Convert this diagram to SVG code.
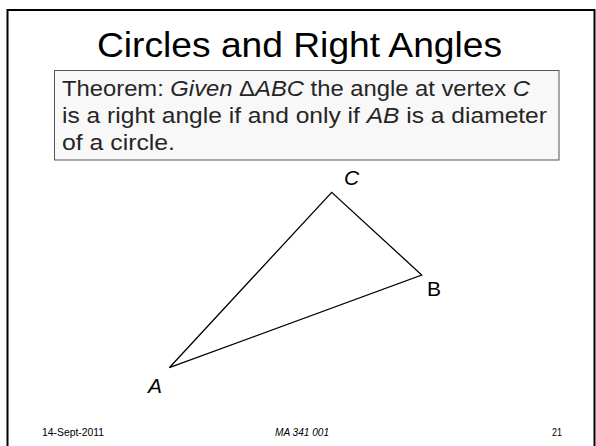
<svg xmlns="http://www.w3.org/2000/svg" width="596" height="446" viewBox="0 0 596 446">
<style>
.t{font-family:"Liberation Sans","DejaVu Sans",sans-serif;}
.it{font-style:italic;}
.title{font-size:35px;fill:#000;}
.body{font-size:22px;fill:#262626;}
.lbl{font-size:21px;fill:#000;font-style:italic;}
.up{font-style:normal;}
.foot{font-size:10px;fill:#000;}
</style>
<rect x="0" y="0" width="596" height="446" fill="#ffffff"/>
<rect id="frame" x="7.5" y="10" width="587" height="450" fill="none" stroke="#000" stroke-width="2"/>
<g id="title">
<text class="t title" x="299.5" y="57" text-anchor="middle" textLength="405" lengthAdjust="spacingAndGlyphs">Circles and Right Angles</text>
</g>
<g id="theorem">
<rect x="54.5" y="70.5" width="504.5" height="89.5" fill="#f8f8f8" stroke="#555" stroke-width="1"/>
<text class="t body" x="62" y="96" textLength="468" lengthAdjust="spacingAndGlyphs">Theorem: <tspan class="it">Given</tspan> Δ<tspan class="it">ABC</tspan> the angle at vertex <tspan class="it">C</tspan></text>
<text class="t body" x="62" y="123" textLength="485" lengthAdjust="spacingAndGlyphs">is a right angle if and only if <tspan class="it">AB</tspan> is a diameter</text>
<text class="t body" x="62" y="150" textLength="113" lengthAdjust="spacingAndGlyphs">of a circle.</text>
</g>
<g id="connectors">
<polygon points="169.3,367.7 421.7,275 331.7,192.3" fill="none" stroke="#000" stroke-width="1.3" stroke-linejoin="miter"/>
</g>
<g id="vertex-C"><text class="t lbl" x="344" y="185">C</text></g>
<g id="vertex-B"><text class="t lbl up" x="427" y="296">B</text></g>
<g id="vertex-A"><text class="t lbl" x="148" y="393">A</text></g>
<g id="footer">
<text class="t foot" x="42" y="436" textLength="62" lengthAdjust="spacingAndGlyphs">14-Sept-2011</text>
<text class="t foot it" x="275" y="436" textLength="54" lengthAdjust="spacingAndGlyphs">MA 341 001</text>
<text class="t foot" x="552" y="436" textLength="10" lengthAdjust="spacingAndGlyphs">21</text>
</g>
</svg>
